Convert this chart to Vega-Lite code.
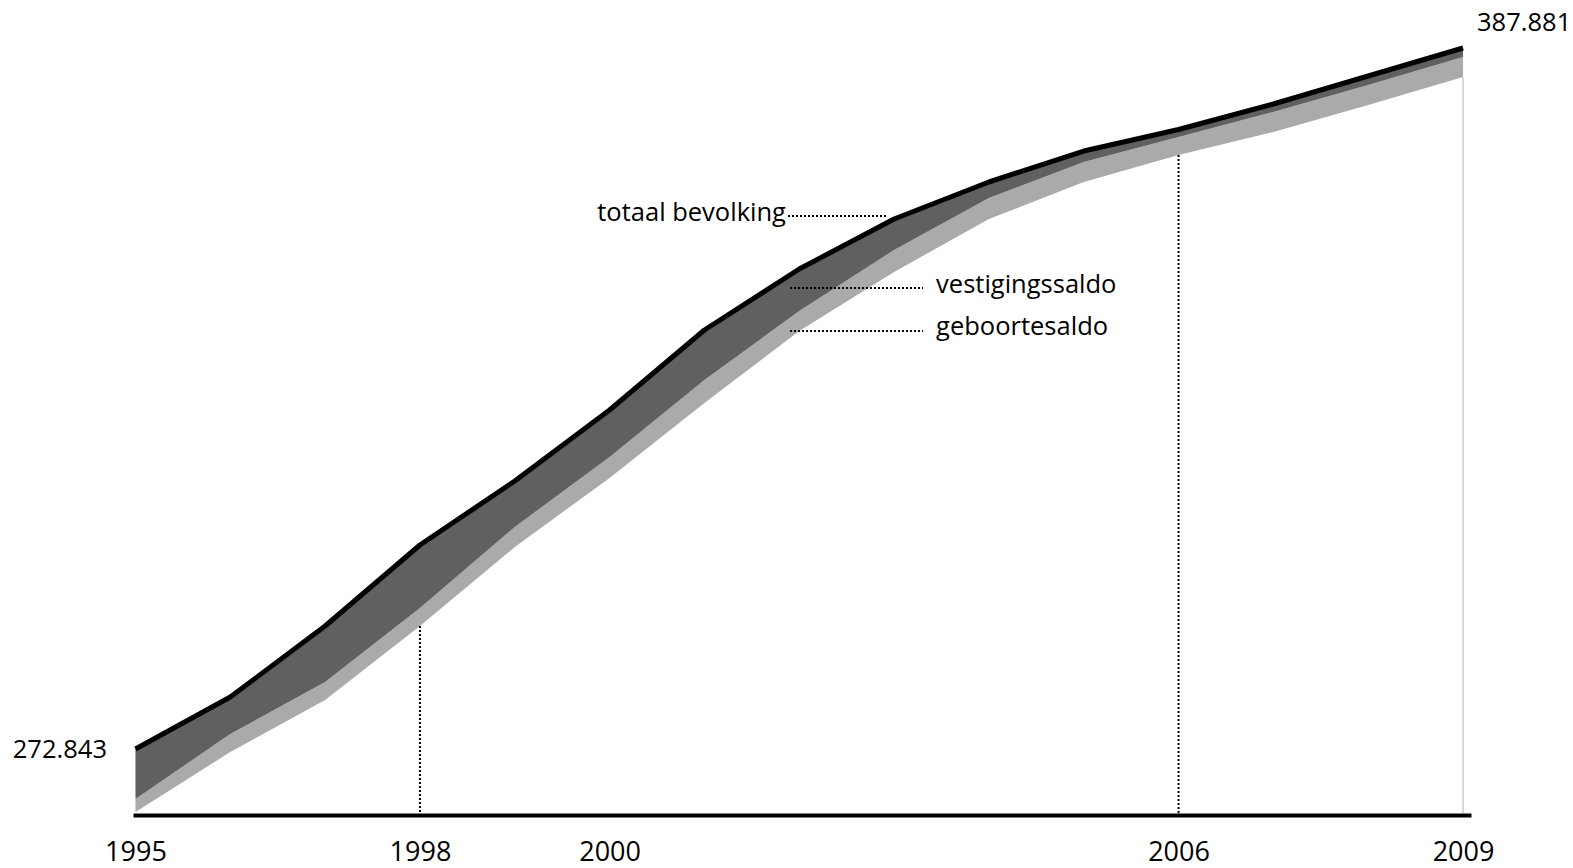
{
  "$schema": "https://vega.github.io/schema/vega-lite/v6.json",
  "width": 1338,
  "height": 773,
  "autosize": {"type": "none"},
  "padding": {"left": 133, "top": 40, "right": 102, "bottom": 55},
  "background": "white",
  "config": {
    "view": {"stroke": null},
    "font": "Open Sans",
    "axisY": {"disable": true},
    "axisX": {
      "domainColor": "black",
      "domainWidth": 4,
      "ticks": false,
      "grid": false,
      "title": null,
      "labelFont": "Open Sans",
      "labelFontSize": 27,
      "labelColor": "black",
      "labelBaseline": "alphabetic",
      "labelPadding": 45,
      "labelFlush": false,
      "labelOverlap": false,
      "offset": 2
    }
  },
  "datasets": {
    "bevolking": [
      {"jaar": 1995, "totaal": 272.843, "zonder_vestiging": 264.638, "basis": 262.504},
      {"jaar": 1996, "totaal": 281.376, "zonder_vestiging": 275.305, "basis": 272.351},
      {"jaar": 1997, "totaal": 293.028, "zonder_vestiging": 283.838, "basis": 280.884},
      {"jaar": 1998, "totaal": 306.320, "zonder_vestiging": 295.982, "basis": 293.028},
      {"jaar": 1999, "totaal": 316.823, "zonder_vestiging": 309.274, "basis": 305.992},
      {"jaar": 2000, "totaal": 328.475, "zonder_vestiging": 320.762, "basis": 317.315},
      {"jaar": 2001, "totaal": 341.603, "zonder_vestiging": 333.398, "basis": 329.623},
      {"jaar": 2002, "totaal": 351.613, "zonder_vestiging": 344.721, "basis": 341.439},
      {"jaar": 2003, "totaal": 359.818, "zonder_vestiging": 354.731, "basis": 351.121},
      {"jaar": 2004, "totaal": 365.890, "zonder_vestiging": 363.264, "basis": 359.818},
      {"jaar": 2005, "totaal": 370.977, "zonder_vestiging": 369.172, "basis": 365.890},
      {"jaar": 2006, "totaal": 374.506, "zonder_vestiging": 373.275, "basis": 370.321},
      {"jaar": 2007, "totaal": 378.690, "zonder_vestiging": 377.377, "basis": 374.095},
      {"jaar": 2008, "totaal": 383.285, "zonder_vestiging": 381.808, "basis": 378.526},
      {"jaar": 2009, "totaal": 387.881, "zonder_vestiging": 386.403, "basis": 383.121}
    ],
    "markeringen": [
      {"jaar": 1998, "waarde": 293.028, "nul": 262.34},
      {"jaar": 2006, "waarde": 370.321, "nul": 262.34}
    ],
    "leiders": [
      {"tekst": "totaal bevolking", "van": 2001.881, "tot": 2002.936, "waarde": 360.31},
      {"tekst": "vestigingssaldo", "van": 2001.903, "tot": 2003.306, "waarde": 348.49},
      {"tekst": "geboortesaldo", "van": 2001.903, "tot": 2003.306, "waarde": 341.44}
    ]
  },
  "layer": [
    {
      "data": {"name": "bevolking"},
      "mark": {"type": "area", "color": "#aaaaaa", "interpolate": "linear"},
      "encoding": {
        "x": {"field": "jaar", "type": "quantitative", "scale": {"domain": [1994.974, 2009.084], "nice": false, "zero": false}, "axis": {"values": [1995, 1998, 2000, 2006, 2009], "format": "d"}},
        "y": {"field": "basis", "type": "quantitative", "scale": {"domain": [262.34, 389.193], "nice": false, "zero": false}},
        "y2": {"field": "zonder_vestiging"}
      }
    },
    {
      "data": {"name": "bevolking"},
      "mark": {"type": "area", "color": "#606060", "interpolate": "linear"},
      "encoding": {
        "x": {"field": "jaar", "type": "quantitative"},
        "y": {"field": "zonder_vestiging", "type": "quantitative"},
        "y2": {"field": "totaal"}
      }
    },
    {
      "data": {"name": "bevolking"},
      "mark": {"type": "rule", "color": "#b4b4b4", "strokeWidth": 1},
      "transform": [{"filter": "datum.jaar == 2009"}],
      "encoding": {
        "x": {"field": "jaar", "type": "quantitative"},
        "y": {"field": "basis", "type": "quantitative"},
        "y2": {"datum": 262.34}
      }
    },
    {
      "data": {"name": "bevolking"},
      "mark": {"type": "line", "color": "black", "strokeWidth": 5, "interpolate": "linear", "strokeCap": "butt", "strokeJoin": "round"},
      "encoding": {
        "x": {"field": "jaar", "type": "quantitative"},
        "y": {"field": "totaal", "type": "quantitative"}
      }
    },
    {
      "data": {"name": "markeringen"},
      "mark": {"type": "rule", "color": "black", "strokeWidth": 2, "strokeDash": [2, 2]},
      "encoding": {
        "x": {"field": "jaar", "type": "quantitative"},
        "y": {"field": "waarde", "type": "quantitative"},
        "y2": {"field": "nul"}
      }
    },
    {
      "data": {"name": "leiders"},
      "mark": {"type": "rule", "color": "black", "strokeWidth": 2, "strokeDash": [2, 2]},
      "encoding": {
        "x": {"field": "van", "type": "quantitative"},
        "x2": {"field": "tot"},
        "y": {"field": "waarde", "type": "quantitative"}
      }
    },
    {
      "data": {"name": "leiders"},
      "transform": [{"filter": "datum.tekst == 'totaal bevolking'"}],
      "mark": {"type": "text", "align": "right", "baseline": "alphabetic", "dx": -2, "dy": 4.7, "fontSize": 25.5, "font": "Open Sans", "color": "black"},
      "encoding": {
        "x": {"field": "van", "type": "quantitative"},
        "y": {"field": "waarde", "type": "quantitative"},
        "text": {"field": "tekst"}
      }
    },
    {
      "data": {"name": "leiders"},
      "transform": [{"filter": "datum.tekst != 'totaal bevolking'"}],
      "mark": {"type": "text", "align": "left", "baseline": "alphabetic", "dx": 13, "dy": 4.5, "fontSize": 25.5, "font": "Open Sans", "color": "black"},
      "encoding": {
        "x": {"field": "tot", "type": "quantitative"},
        "y": {"field": "waarde", "type": "quantitative"},
        "text": {"field": "tekst"}
      }
    },
    {
      "data": {"name": "bevolking"},
      "transform": [{"filter": "datum.jaar == 1995"}, {"calculate": "format(datum.totaal, '.3f')", "as": "label"}],
      "mark": {"type": "text", "align": "right", "baseline": "middle", "dx": -28.5, "dy": 1, "fontSize": 25.5, "font": "Open Sans", "color": "black"},
      "encoding": {
        "x": {"field": "jaar", "type": "quantitative"},
        "y": {"field": "totaal", "type": "quantitative"},
        "text": {"field": "label"}
      }
    },
    {
      "data": {"name": "bevolking"},
      "transform": [{"filter": "datum.jaar == 2009"}, {"calculate": "format(datum.totaal, '.3f')", "as": "label"}],
      "mark": {"type": "text", "align": "left", "baseline": "middle", "dx": 14, "dy": -25, "fontSize": 25.5, "font": "Open Sans", "color": "black"},
      "encoding": {
        "x": {"field": "jaar", "type": "quantitative"},
        "y": {"field": "totaal", "type": "quantitative"},
        "text": {"field": "label"}
      }
    }
  ]
}
